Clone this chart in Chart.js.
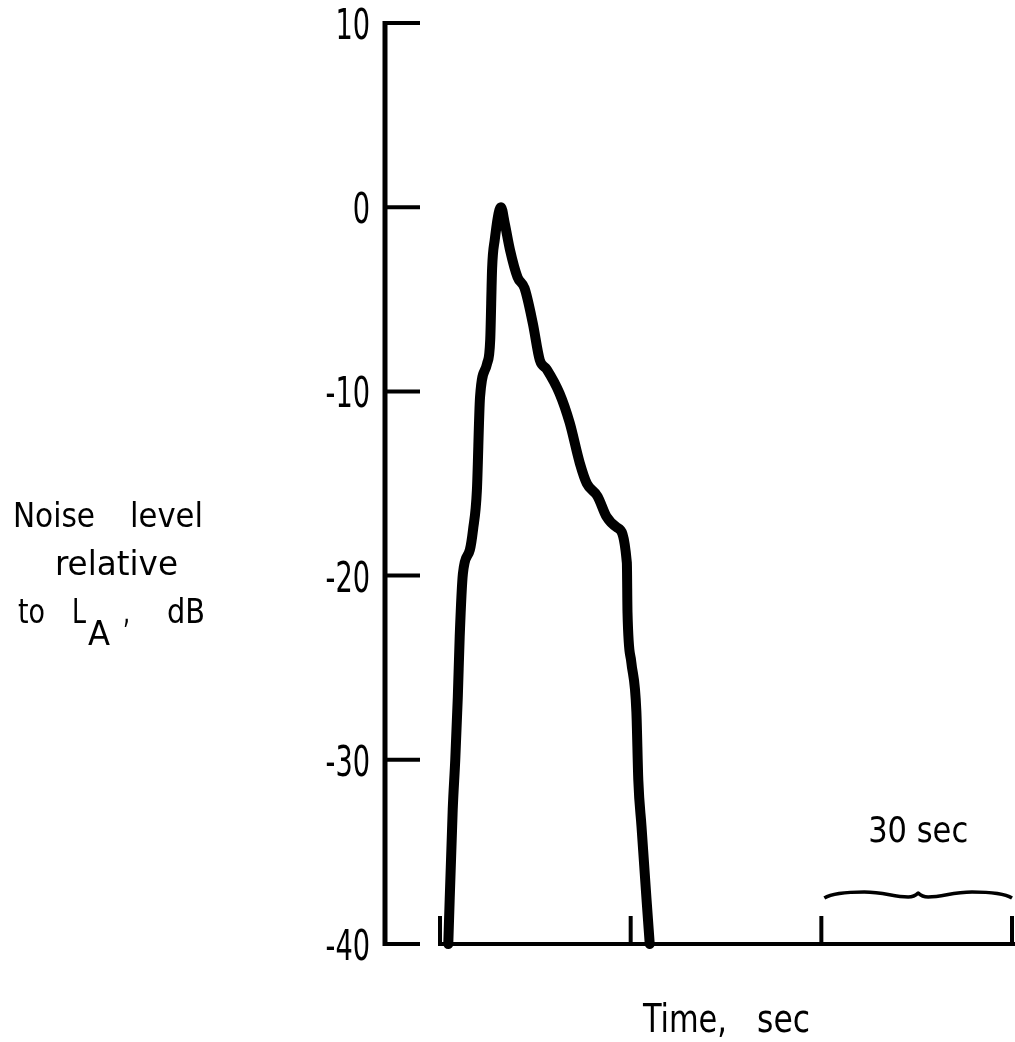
<!DOCTYPE html>
<html>
<head>
<meta charset="utf-8">
<title>Noise level time history</title>
<script src="https://cdn.jsdelivr.net/npm/chart.js@4.4.1/dist/chart.umd.min.js"></script>
<style>
  html, body { margin: 0; padding: 0; background: #fff; }
  #wrap { width: 1015px; height: 1042px; position: relative; }
</style>
</head>
<body>
<div id="wrap"><canvas id="noise-canvas"></canvas></div>
<script>
// Flyover trace: time (s) and level relative to L_A (dB)
const timeSec = [1.3, 2.0, 2.4, 2.8, 3.1, 3.6, 4.7, 5.2, 5.8, 6.3, 7.4, 7.9, 8.2, 8.6, 9.6,
  10.2, 11.0, 12.2, 13.3, 14.6, 15.7, 16.8, 18.8, 20.4, 22.0, 23.1, 24.8, 26.2, 27.9,
  29.4, 29.5, 30.1, 30.9, 31.2, 31.7, 32.5, 33.0];
const levelDb = [-40, -32.7, -30, -26.6, -23.3, -19.9, -18.6, -17.5, -15.4, -10.3, -8.5, -7.2, -3.3, -1.8, 0,
  -0.9, -2.3, -3.8, -4.4, -6.3, -8.3, -8.8, -10.1, -11.7, -13.9, -15.0, -15.7, -16.8, -17.4,
  -19.3, -22.0, -24.7, -27.4, -31.1, -33.6, -37.6, -40];

const yTicks = [10, 0, -10, -20, -30, -40];
const xTicks = [0, 30, 60, 90];
const spanFrom = 60;
const spanTo = 90;
const spanLabel = '30 sec';

const FONT = "'DejaVu Sans Condensed', 'DejaVu Sans', sans-serif";

// draw text squeezed/stretched to a given width, left edge at x
function fitText(ctx, text, x, baseline, size, width) {
  ctx.save();
  ctx.font = size + 'px ' + FONT;
  ctx.textAlign = 'left';
  ctx.textBaseline = 'alphabetic';
  const w = ctx.measureText(text).width;
  ctx.translate(x, baseline);
  ctx.scale(width / w, 1);
  ctx.fillText(text, 0, 0);
  ctx.restore();
}

const axesPlugin = {
  id: 'paperAxes',
  afterDatasetsDraw(chart) {
    const ctx = chart.ctx;
    const xs = chart.scales.x;
    const ys = chart.scales.y;
    const area = chart.chartArea;
    const axisX = area.left + 2;
    const y0 = ys.getPixelForValue(-40);

    ctx.save();
    ctx.strokeStyle = '#000';
    ctx.fillStyle = '#000';
    ctx.lineCap = 'butt';

    // vertical axis with inward ticks
    ctx.lineWidth = 5;
    ctx.beginPath();
    ctx.moveTo(axisX, ys.getPixelForValue(10) - 2);
    ctx.lineTo(axisX, y0 + 2);
    ctx.stroke();

    ctx.lineWidth = 4;
    yTicks.forEach(v => {
      const py = ys.getPixelForValue(v);
      ctx.beginPath();
      ctx.moveTo(axisX, py);
      ctx.lineTo(axisX + 35, py);
      ctx.stroke();
    });

    // tick labels
    ctx.font = '42px ' + FONT;
    ctx.textAlign = 'right';
    ctx.textBaseline = 'middle';
    yTicks.forEach(v => {
      const py = ys.getPixelForValue(v);
      ctx.save();
      ctx.translate(area.left - 13, py + 5);
      ctx.scale(0.72, 1);
      ctx.fillText(String(v), 0, 0);
      ctx.restore();
    });

    // time base line starting at t = 0
    ctx.lineWidth = 4;
    ctx.beginPath();
    ctx.moveTo(xs.getPixelForValue(0) - 2, y0);
    ctx.lineTo(area.right, y0);
    ctx.stroke();

    xTicks.forEach(t => {
      const px = xs.getPixelForValue(t);
      ctx.beginPath();
      ctx.moveTo(px, y0);
      ctx.lineTo(px, y0 - 28);
      ctx.stroke();
    });

    // brace over one 30 s interval
    const x1 = xs.getPixelForValue(spanFrom) + 3;
    const x2 = xs.getPixelForValue(spanTo);
    const m = (x1 + x2) / 2;
    const yb = y0 - 50;
    ctx.lineWidth = 3.5;
    ctx.lineJoin = 'round';
    ctx.beginPath();
    ctx.moveTo(x1, yb + 4);
    ctx.bezierCurveTo(x1 + 8, yb - 1, x1 + 25, yb - 2, x1 + 40, yb - 2);
    ctx.bezierCurveTo(x1 + 60, yb - 2, m - 25, yb + 3, m - 10, yb + 3);
    ctx.quadraticCurveTo(m - 4, yb + 3, m, yb - 1);
    ctx.quadraticCurveTo(m + 4, yb + 3, m + 10, yb + 3);
    ctx.bezierCurveTo(m + 25, yb + 3, x2 - 60, yb - 2, x2 - 40, yb - 2);
    ctx.bezierCurveTo(x2 - 25, yb - 2, x2 - 8, yb - 1, x2, yb + 4);
    ctx.stroke();

    fitText(ctx, spanLabel, m - 50, yb - 52, 36, 100);

    // axis titles
    fitText(ctx, 'Noise', 13, 527, 34, 82);
    fitText(ctx, 'level', 130, 527, 34, 73);
    fitText(ctx, 'relative', 55, 575, 34, 123);
    fitText(ctx, 'to', 18, 623, 34, 27);
    fitText(ctx, 'L', 72, 623, 34, 14);
    fitText(ctx, 'A', 88, 645, 34, 22);
    fitText(ctx, ',', 123, 623, 34, 7);
    fitText(ctx, 'dB', 167, 623, 34, 38);
    fitText(ctx, 'Time,', 643, 1032, 39, 84);
    fitText(ctx, 'sec', 757, 1032, 39, 53);

    ctx.restore();
  }
};

const points = timeSec.map((t, i) => ({ x: t, y: levelDb[i] }));

new Chart(document.getElementById('noise-canvas'), {
  type: 'line',
  data: {
    datasets: [{
      data: points,
      borderColor: '#000',
      borderWidth: 10,
      borderJoinStyle: 'round',
      borderCapStyle: 'round',
      pointRadius: 0,
      cubicInterpolationMode: 'monotone',
      fill: false,
      clip: false
    }]
  },
  options: {
    responsive: true,
    maintainAspectRatio: false,
    animation: false,
    events: [],
    layout: { padding: { left: 383, right: 0, top: 23, bottom: 98 } },
    plugins: {
      legend: { display: false },
      tooltip: { enabled: false }
    },
    scales: {
      x: { type: 'linear', min: -8.97, max: 90.47, display: false },
      y: { type: 'linear', min: -40, max: 10, display: false }
    }
  },
  plugins: [axesPlugin]
});
</script>
</body>
</html>
